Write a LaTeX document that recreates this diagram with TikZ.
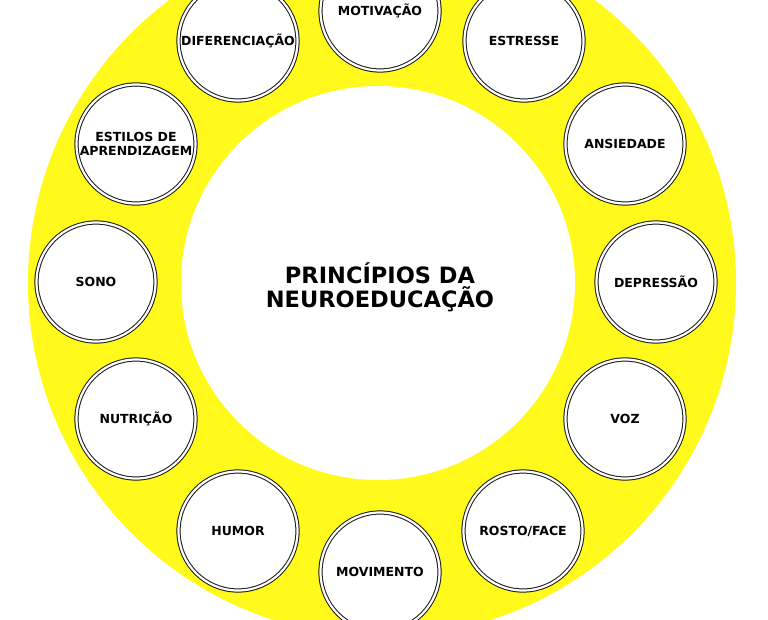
\documentclass[tikz,border=0pt]{standalone}
\usepackage{fontspec}
\setmainfont{DejaVu Sans}
\definecolor{ringyellow}{RGB}{255,250,28}
\begin{document}
\begin{tikzpicture}[x=1pt,y=-1pt,
  bubble/.style={circle,draw=black!90,line width=1pt,double=white,double distance=2.2pt,fill=white,minimum size=119pt,inner sep=0pt},
  lbl/.style={font=\fontsize{12.5}{14.5}\selectfont\bfseries,align=center,inner sep=0pt,text=black},
  title/.style={font=\fontsize{22.5}{24}\selectfont\bfseries,align=center,inner sep=0pt,text=black}]
\useasboundingbox (0,0) rectangle (768,619);
\clip (0,0) rectangle (768,619);
\fill[white] (0,0) rectangle (768,619);
\fill[ringyellow] (382,283) circle (354);
\node[circle,fill=white,minimum size=394pt,inner sep=0pt] (inner) at (378,283) {};
\node[title] (t) at (380,287) {PRINCÍPIOS DA\\NEUROEDUCAÇÃO};
\foreach \n/\x/\y in {mot/380/11, est/524/41, ans/625/144, dep/656/282, voz/625/419, ros/523/531, mov/380/572, hum/238/531, nut/136/419, son/96/282, esa/136/144, dif/238/41}
  \node[bubble] (\n) at (\x,\y) {};
\node[lbl] (motT) at (mot) {MOTIVAÇÃO};
\node[lbl] (estT) at (est) {ESTRESSE};
\node[lbl] (ansT) at (ans) {ANSIEDADE};
\node[lbl] (depT) at (dep) {DEPRESSÃO};
\node[lbl] (vozT) at (voz) {VOZ};
\node[lbl] (rosT) at (ros) {ROSTO/FACE};
\node[lbl] (movT) at (mov) {MOVIMENTO};
\node[lbl] (humT) at (hum) {HUMOR};
\node[lbl] (nutT) at (nut) {NUTRIÇÃO};
\node[lbl] (sonT) at (son) {SONO};
\node[lbl] (esaT) at (esa) {ESTILOS DE\\APRENDIZAGEM};
\node[lbl] (difT) at (dif) {DIFERENCIAÇÃO};
\end{tikzpicture}
\end{document}
